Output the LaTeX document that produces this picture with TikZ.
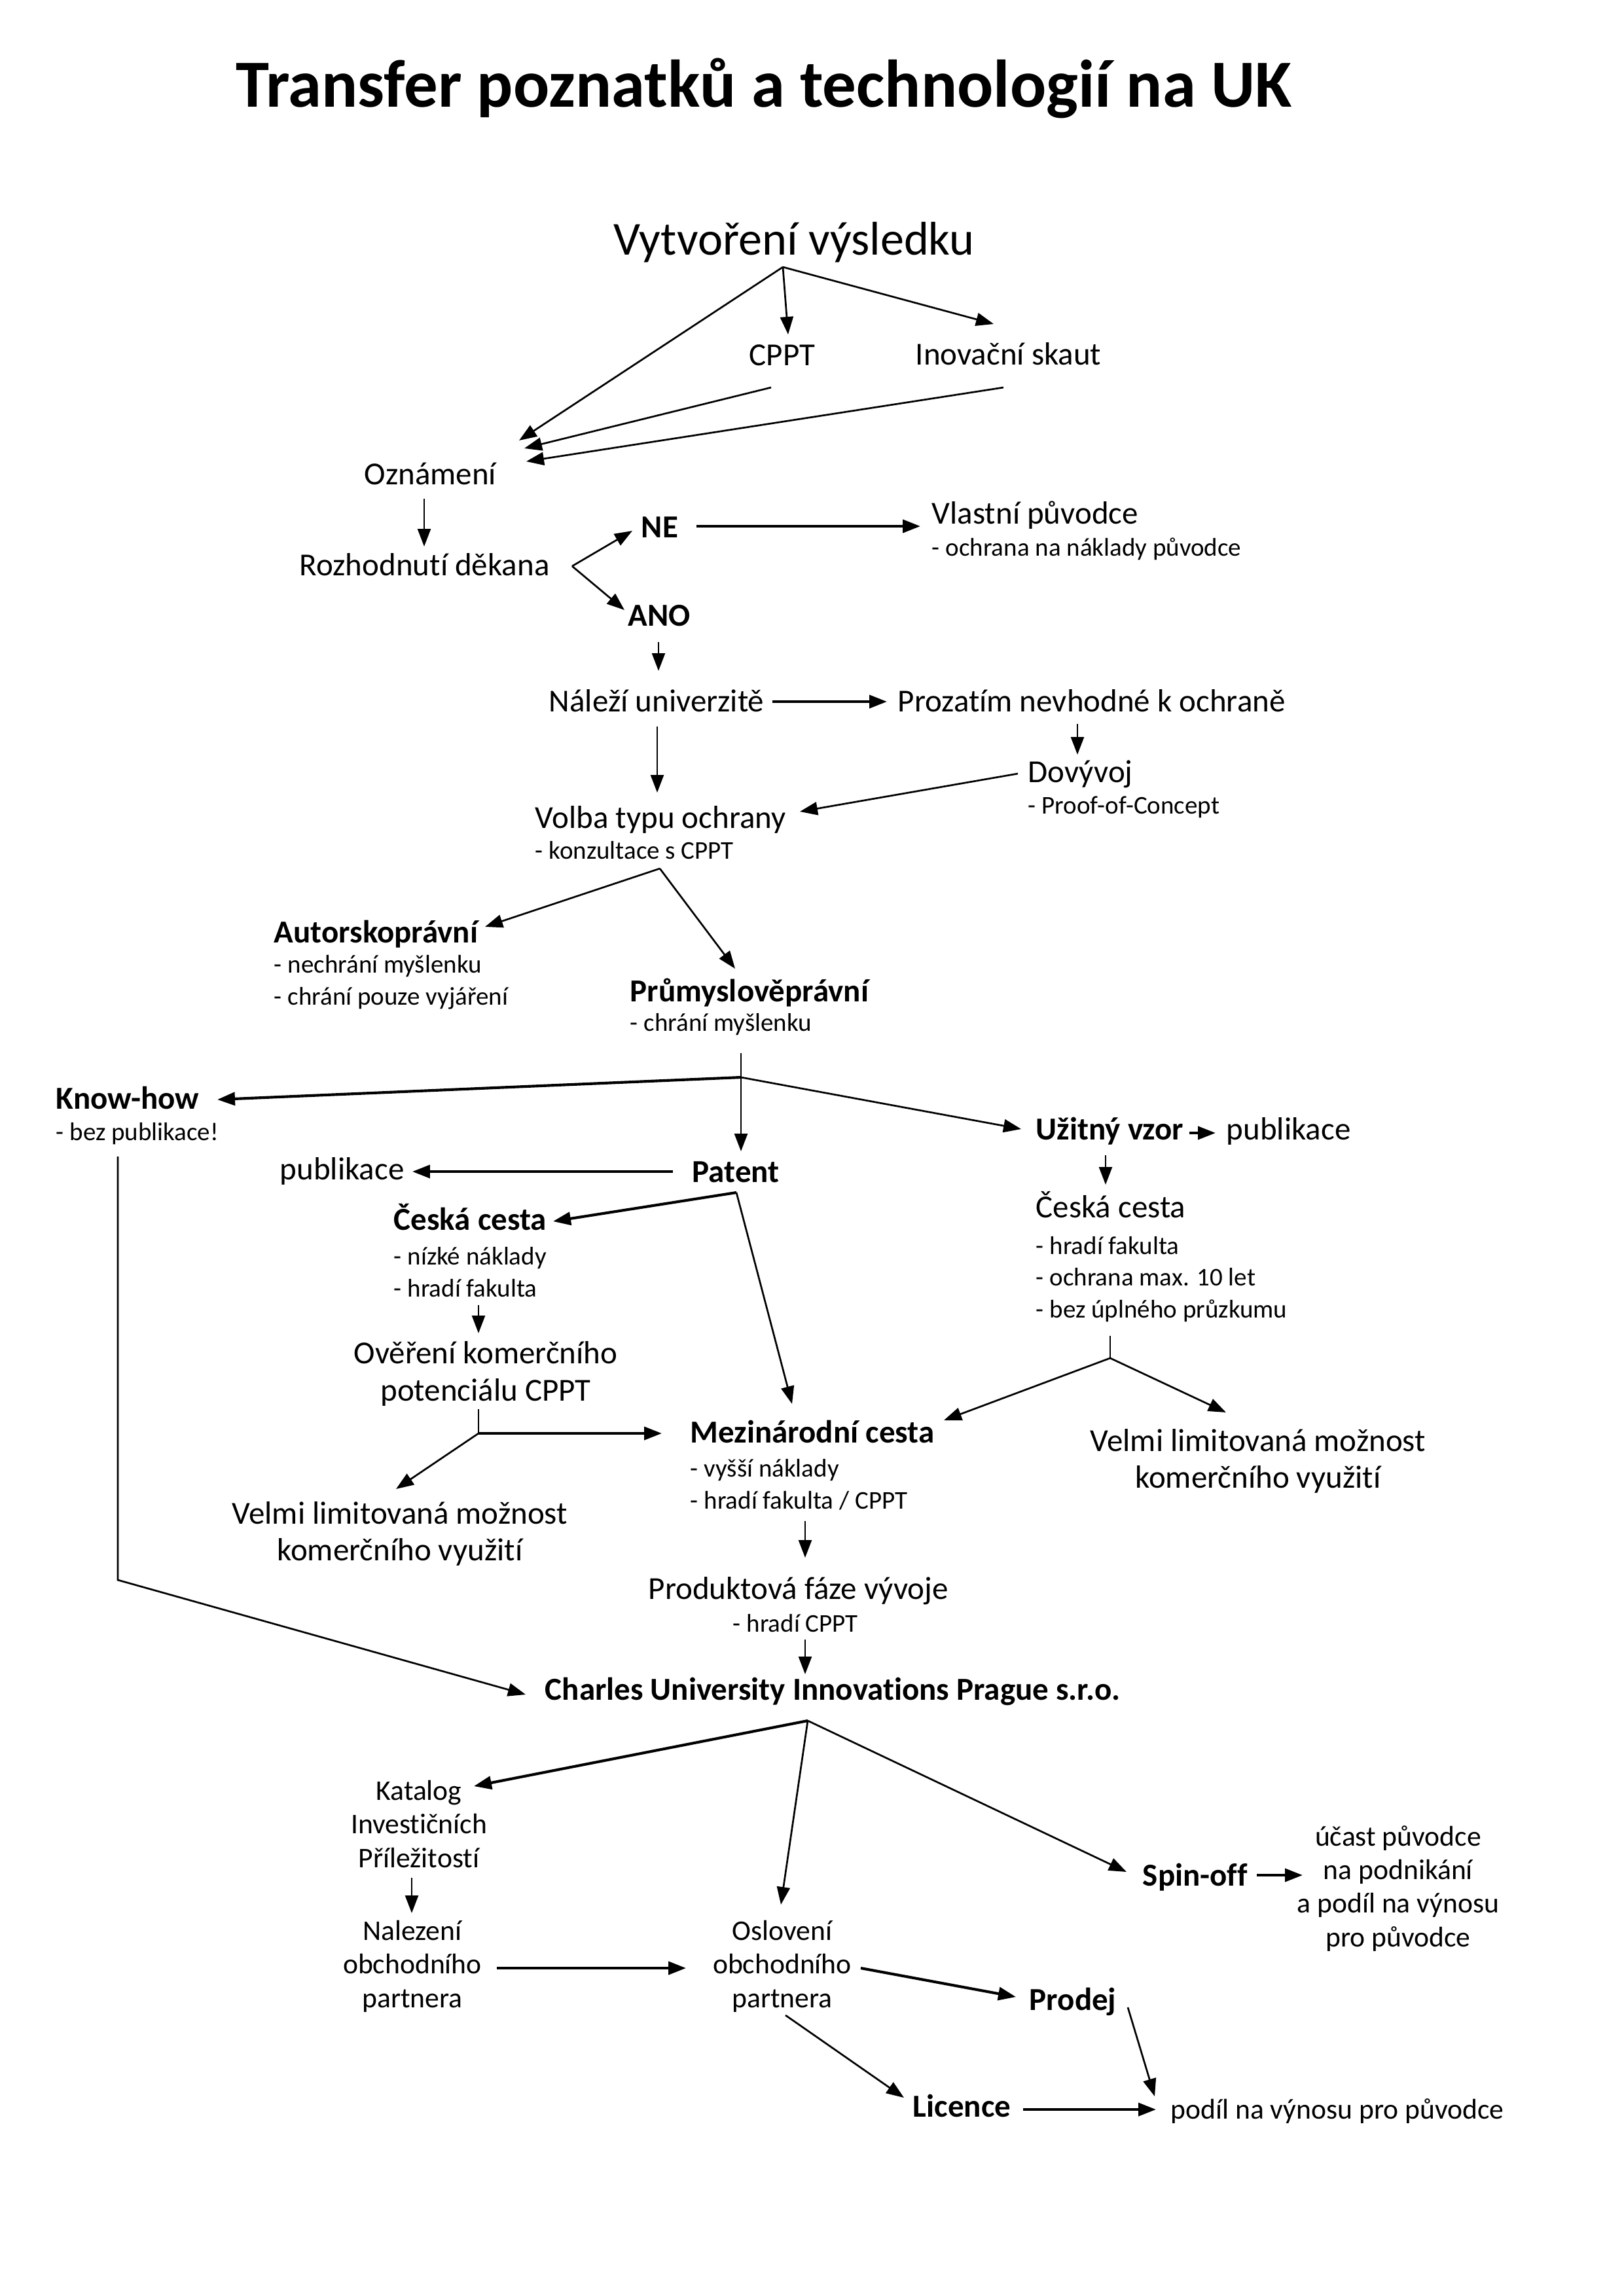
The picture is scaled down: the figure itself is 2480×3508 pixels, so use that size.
\documentclass[tikz,border=0pt]{standalone}
\usepackage{fontspec}
\setmainfont{Carlito}[Ligatures=NoCommon]
\usetikzlibrary{arrows.meta}

\begin{document}
\begin{tikzpicture}[x=0.0084677cm,y=-0.0084677cm,
  every node/.style={inner sep=0pt},
  ttl/.style={font=\fontsize{24.8}{28}\selectfont\bfseries,anchor=base},
  big/.style={font=\fontsize{17.4}{20}\selectfont,anchor=base},
  txt/.style={font=\fontsize{11.8}{13.5}\selectfont,anchor=base west},
  ctxt/.style={font=\fontsize{11.8}{13.5}\selectfont,align=center,anchor=base},
  hd/.style={font=\fontsize{11.8}{13.5}\selectfont\bfseries,anchor=base west},
  nt/.style={font=\fontsize{9.4}{11.6}\selectfont,align=left,anchor=base west},
  low/.style={font=\fontsize{10.5}{12.3}\selectfont,align=center,anchor=base},
  arr/.style={-{Triangle[length=6.5pt,width=4.8pt]},line width=0.65pt},
  tarr/.style={arr,line width=1pt}]

\useasboundingbox (0,0) rectangle (2480,3508);

% title
\node[ttl] (title) at (1167,163) {Transfer poznatků a technologií na UK};

% vytvoreni vysledku
\node[big] (vyt) at (1213,389) {Vytvoření výsledku};
\node[txt] (cppt) at (1144,558) {CPPT};
\node[txt] (skaut) at (1398,557) {Inovační skaut};
\node[txt] (ozn) at (556,740) {Oznámení};
\coordinate (vs) at (1196,408);
\draw[arr] (vs) -- ([shift={(237,-67)}]ozn.base west);
\draw[arr] (vs) -- ([shift={(60,-47)}]cppt.base west);
\draw[arr] (vs) -- ([shift={(120,-62)}]skaut.base west);
\draw[arr] ([shift={(34,34)}]cppt.base west) -- ([shift={(245,-55)}]ozn.base west);
\draw[arr] ([shift={(135,35)}]skaut.base west) -- ([shift={(248,-35)}]ozn.base west);

% rozhodnuti dekana
\node[txt] (dek) at (457,879) {Rozhodnutí děkana};
\node[hd] (ne) at (979,821) {NE};
\node[hd] (ano) at (959,956) {ANO};
\node[txt] (vlast) at (1423,800) {Vlastní původce};
\node[nt] (vlastn) at (1423,849) {- ochrana na náklady původce};
\draw[arr] ([shift={(92,22)}]ozn.base west) -- ([shift={(191,-44)}]dek.base west);
\coordinate (dj) at (874,865);
\draw[arr] (dj) -- ([shift={(-13,-10)}]ne.base west);
\draw[arr] (dj) -- ([shift={(-5,-24)}]ano.base west);
\draw[tarr] ([shift={(85,-17)}]ne.base west) -- ([shift={(-17,4)}]vlast.base west);

% nalezi univerzite
\node[txt] (nalezi) at (838,1087) {Náleží univerzitě};
\node[txt] (proz) at (1371,1087) {Prozatím nevhodné k ochraně};
\node[txt] (dov) at (1570,1195) {Dovývoj};
\node[nt] (dovn) at (1570,1243) {- Proof-of-Concept};
\node[txt] (volba) at (817,1265) {Volba typu ochrany};
\node[nt] (volban) at (817,1312) {- konzultace s CPPT};
\draw[arr] ([shift={(47,25)}]ano.base west) -- ([shift={(168,-62)}]nalezi.base west);
\draw[tarr] ([shift={(342,-15)}]nalezi.base west) -- ([shift={(-16,-15)}]proz.base west);
\draw[arr] ([shift={(166,23)}]nalezi.base west) -- ([shift={(187,-54)}]volba.base west);
\draw[arr] ([shift={(275,19)}]proz.base west) -- ([shift={(76,-42)}]dov.base west);
\draw[arr] ([shift={(-15,-13)}]dov.base west) -- ([shift={(405,-25)}]volba.base west);

% typ ochrany
\node[hd] (aut) at (418,1440) {Autorskoprávní};
\node[nt] (autn) at (418,1535) {- nechrání myšlenku\\- chrání pouze vyjáření};
\node[hd] (prum) at (962,1530) {Průmyslověprávní};
\node[nt] (prumn) at (962,1575) {- chrání myšlenku};
\coordinate (volj) at (1008,1327);
\draw[arr] (volj) -- ([shift={(323,-24)}]aut.base west);
\draw[arr] (volj) -- ([shift={(161,-50)}]prum.base west);

% prumyslovepravni ochrana
\node[hd] (know) at (85,1694) {Know-how};
\node[nt] (known) at (85,1742) {- bez publikace!};
\node[hd] (uzit) at (1582,1741) {Užitný vzor};
\node[txt] (upub) at (1873,1741) {publikace};
\node[txt] (ppub) at (427,1802) {publikace};
\node[hd] (patent) at (1057,1806) {Patent};
\coordinate (pj) at (1132,1646);
\draw[line width=0.65pt] ([shift={(170,79)}]prum.base west) -- (pj);
\draw[tarr] (pj) -- ([shift={(247,-14)}]know.base west);
\draw[arr] (pj) -- ([shift={(75,-47)}]patent.base west);
\draw[arr] (pj) -- ([shift={(-22,-16)}]uzit.base west);
\draw[tarr] ([shift={(235,-10)}]uzit.base west) -- ([shift={(-16,-10)}]upub.base west);
\draw[tarr] ([shift={(-29,-16)}]patent.base west) -- ([shift={(203,-12)}]ppub.base west);

% ceska cesta - patent
\node[hd] (cc) at (601,1879) {Česká cesta};
\node[nt] (ccn) at (601,1981) {- nízké náklady\\- hradí fakulta};
\node[ctxt] (over) at (742,2140) {Ověření komerčního\\potenciálu CPPT};
\node[ctxt] (vell) at (611,2384) {Velmi limitovaná možnost\\komerčního využití};
\coordinate (patj) at (1125,1822);
\draw[tarr] (patj) -- ([shift={(244,-13)}]cc.base west);
\draw[arr] ([shift={(130,115)}]cc.base west) -- ([shift={(-11,-103)}]over.base);
\coordinate (oj) at (731,2190);
\draw[line width=0.65pt] ([shift={(-11,13)}]over.base) -- (oj);
\draw[arr] (oj) -- ([shift={(-6,-109)}]vell.base);

% ceska cesta - uzitny vzor
\node[txt] (ccu) at (1582,1860) {Česká cesta};
\node[nt] (ccun) at (1582,2013) {- hradí fakulta\\- ochrana max. 10 let\\- bez úplného průzkumu};
\node[ctxt] (velp) at (1922,2273) {Velmi limitovaná možnost\\komerčního využití};
\draw[arr] ([shift={(107,24)}]uzit.base west) -- ([shift={(107,-50)}]ccu.base west);
\coordinate (uj) at (1696,2075);
\draw[line width=0.65pt] ([shift={(114,181)}]ccu.base west) -- (uj);
\draw[arr] (uj) -- ([shift={(-49,-115)}]velp.base);

% mezinarodni cesta
\node[hd] (mez) at (1054,2204) {Mezinárodní cesta};
\node[nt] (mezn) at (1054,2305) {- vyšší náklady\\- hradí fakulta / CPPT};
\draw[arr] (patj) -- ([shift={(156,-59)}]mez.base west);
\draw[tarr] (oj) -- ([shift={(-43,-14)}]mez.base west);
\draw[arr] (uj) -- ([shift={(388,-34)}]mez.base west);

% produktova faze
\node[txt] (prod) at (990,2443) {Produktová fáze vývoje};
\node[nt] (prodn) at (1119,2493) {- hradí CPPT};
\node[hd] (cuip) at (832,2597) {Charles University Innovations Prague s.r.o.};
\draw[arr] ([shift={(176,120)}]mez.base west) -- ([shift={(240,-63)}]prod.base west);
\draw[arr] ([shift={(240,62)}]prod.base west) -- ([shift={(398,-39)}]cuip.base west);
\coordinate (kj) at (180,2414);
\draw[arr] ([shift={(95,73)}]know.base west) -- (kj) -- ([shift={(-29,-8)}]cuip.base west);

% komercializace
\node[low] (kat) at (640,2853) {Katalog\\Investičních\\Příležitostí};
\node[low] (nal) at (630,3067) {Nalezení\\obchodního\\partnera};
\node[low] (osl) at (1195,3067) {Oslovení\\obchodního\\partnera};
\node[hd] (spin) at (1745,2881) {Spin-off};
\node[low] (ucast) at (2136,2974) {účast původce\\na podnikání\\a podíl na výnosu\\pro původce};
\node[hd] (prodej) at (1572,3071) {Prodej};
\node[hd] (lic) at (1394,3234) {Licence};
\node[low,anchor=base west] (podil) at (1788,3237) {podíl na výnosu pro původce};
\coordinate (cj) at (1234,2629);
\draw[tarr] (cj) -- ([shift={(84,-124)}]kat.base);
\draw[arr] (cj) -- ([shift={(-2,-157)}]osl.base);
\draw[arr] (cj) -- ([shift={(-24,-21)}]spin.base west);
\draw[arr] ([shift={(-11,16)}]kat.base) -- ([shift={(-1,-144)}]nal.base);
\draw[tarr] ([shift={(129,-60)}]nal.base) -- ([shift={(-147,-60)}]osl.base);
\draw[tarr] ([shift={(120,-60)}]osl.base) -- ([shift={(-20,-20)}]prodej.base west);
\draw[arr] ([shift={(5,12)}]osl.base) -- ([shift={(-13,-29)}]lic.base west);
\draw[arr] ([shift={(151,-4)}]prodej.base west) -- ([shift={(-24,-34)}]podil.base west);
\draw[tarr] ([shift={(169,-11)}]lic.base west) -- ([shift={(-22,-14)}]podil.base west);
\draw[tarr] ([shift={(175,-16)}]spin.base west) -- ([shift={(-146,-109)}]ucast.base);
\end{tikzpicture}
\end{document}
